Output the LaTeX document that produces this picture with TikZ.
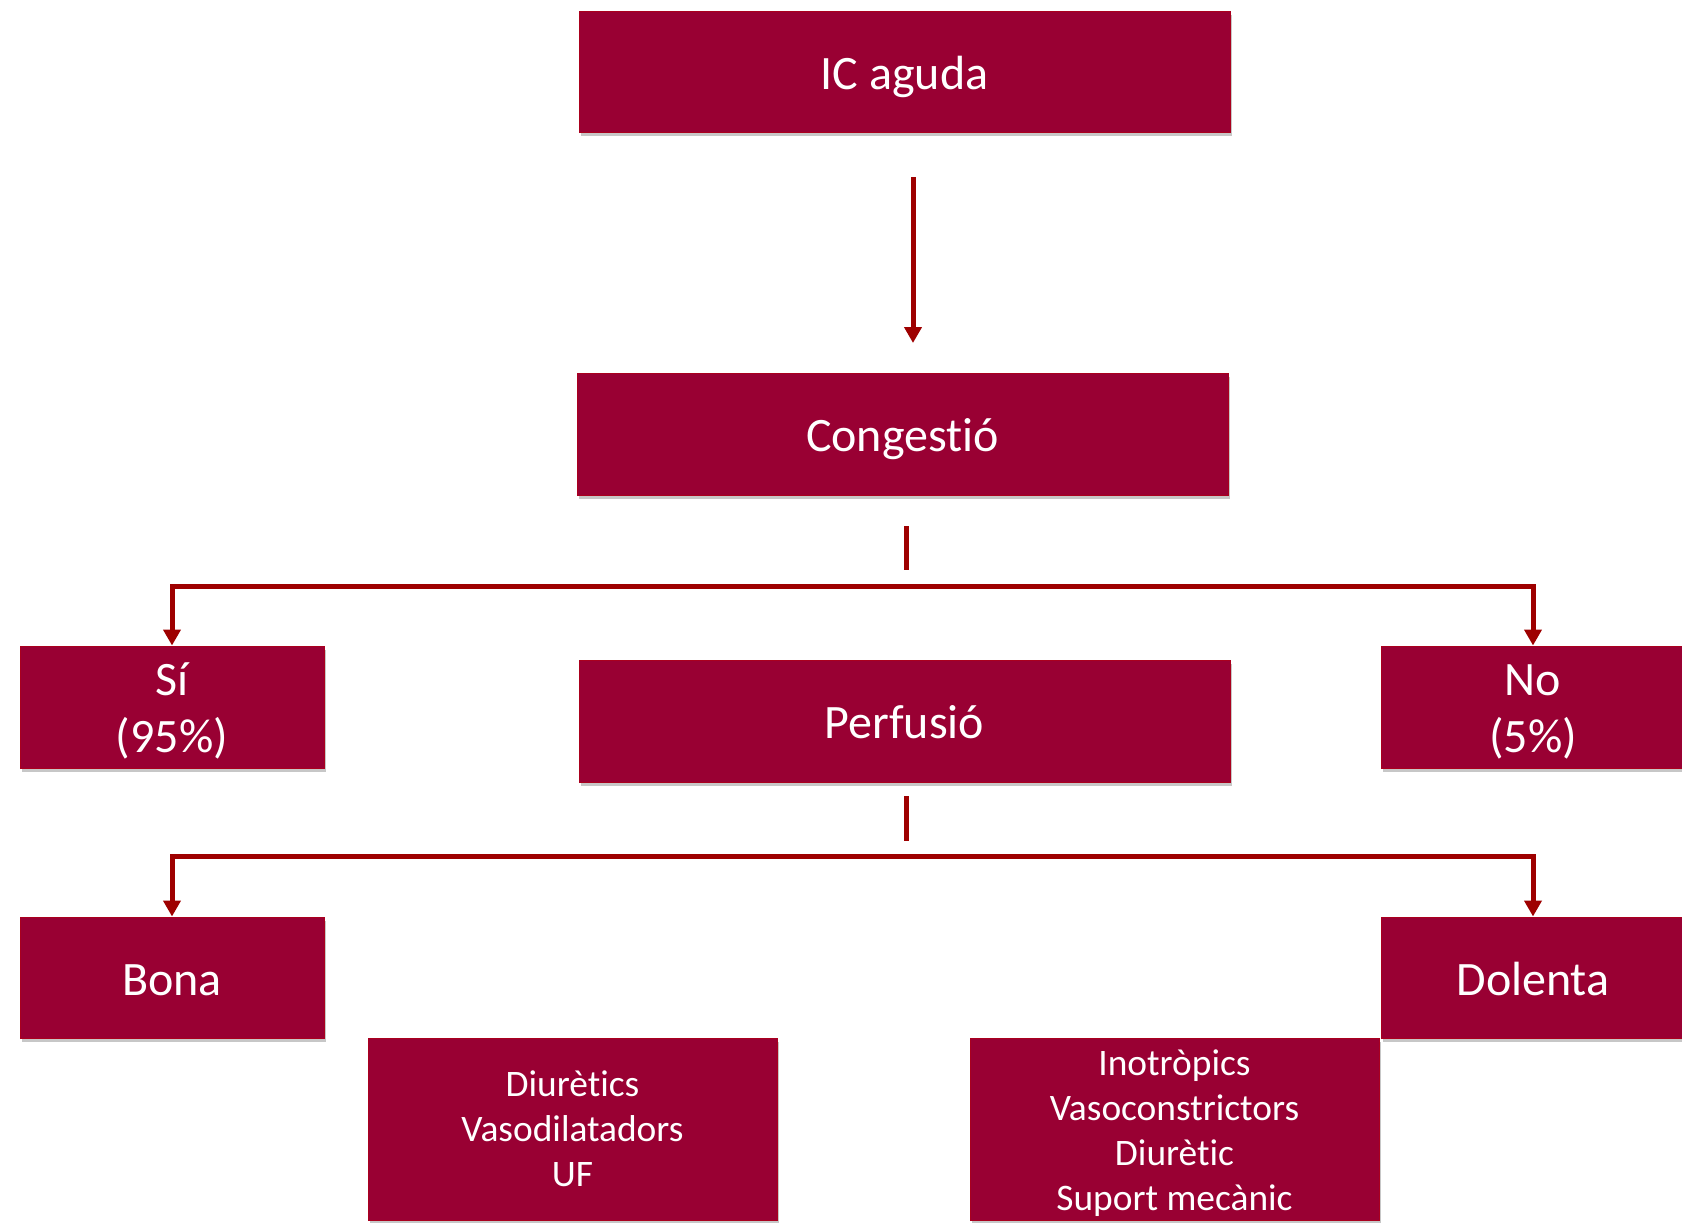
\documentclass[tikz,border=0pt]{standalone}
\usepackage{fontspec}
\setmainfont{Carlito}[Ligatures=CommonOff]
\usetikzlibrary{arrows.meta,shadows,calc}
\definecolor{boxfill}{RGB}{153,0,51}
\definecolor{boxline}{RGB}{170,0,30}
\definecolor{linkred}{RGB}{158,0,0}
\begin{document}
\begin{tikzpicture}[x=0.5pt,y=-0.5pt,
  box/.style={rectangle, fill=boxfill, draw=boxline, line width=0.5pt,
    text=white, align=center, inner sep=0pt, anchor=center,
    drop shadow={shadow xshift=1pt, shadow yshift=-2pt, opacity=0.22, fill=black}},
  bigbox/.style={box, font=\fontsize{24pt}{28.5pt}\selectfont,
    text height=22.5pt, text depth=5pt},
  twoline/.style={text height=50pt, text depth=5pt},
  smallbox/.style={box, font=\fontsize{18.7pt}{22.5pt}\selectfont},
  conn/.style={draw=linkred, line width=2.5pt, line join=miter},
  tip/.style={-{Triangle[width=8.5pt,length=8pt]}},
  tips/.style={{Triangle[width=8.5pt,length=8pt]}-{Triangle[width=8.5pt,length=8pt]}}]
  \useasboundingbox (0,0) rectangle (1682,1222);

  % boxes
  \node[bigbox, minimum width=325.5pt, minimum height=60.5pt] (ic) at (904.5,71.5) {IC aguda};
  \node[bigbox, minimum width=325.5pt, minimum height=61pt] (cong) at (902.5,434) {Congestió};
  \node[bigbox, twoline, minimum width=152pt, minimum height=61pt] (si) at (172,707) {Sí\\(95\%)};
  \node[bigbox, minimum width=325.5pt, minimum height=61pt] (perf) at (904.5,721) {Perfusió};
  \node[bigbox, twoline, minimum width=152pt, minimum height=61pt] (no) at (1533,707) {No\\(5\%)};
  \node[bigbox, minimum width=152pt, minimum height=60.5pt] (bona) at (172,977.5) {Bona};
  \node[bigbox, minimum width=152pt, minimum height=60.5pt] (dol) at (1533,977.5) {Dolenta};
  \node[smallbox, text height=62.7pt, text depth=5pt, minimum width=204.5pt, minimum height=91pt]
    (trbona) at (572.5,1129) {Diurètics\\Vasodilatadors\\UF};
  \node[smallbox, text height=86pt, text depth=5pt, minimum width=204.5pt, minimum height=91pt]
    (trdol) at (1174.5,1129) {Inotròpics\\Vasoconstrictors\\Diurètic\\Suport mecànic};

  % connector points
  \coordinate (a1) at (913,177);
  \coordinate (a2) at (913,343);
  \coordinate (t1a) at (906,526);
  \coordinate (t1b) at (906,570);
  \coordinate (h1) at (906,586);
  \coordinate (t2a) at (906,796);
  \coordinate (t2b) at (906,841);
  \coordinate (h2) at (906,856);

  % connectors
  \draw[conn, tip] (a1) -- (a2);
  \draw[conn] (t1a) -- (t1b);
  \draw[conn, tips] (si.north) |- (h1) -| (no.north);
  \draw[conn] (t2a) -- (t2b);
  \draw[conn, tips] (bona.north) |- (h2) -| (dol.north);
\end{tikzpicture}
\end{document}
